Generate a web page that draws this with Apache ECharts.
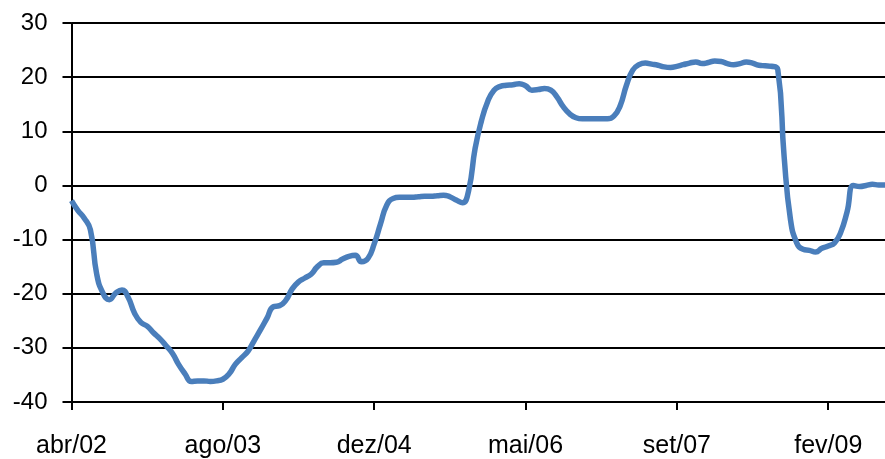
<!DOCTYPE html>
<html>
<head>
<meta charset="utf-8">
<script src="https://cdn.jsdelivr.net/npm/echarts@6/dist/echarts.min.js"></script>
<style>html,body{margin:0;padding:0;background:#fff;}#c{width:885px;height:459px;}</style>
</head>
<body>
<div id="c"></div>
<script>
// Tick labels (one every 24 samples)
var tickLabels = ['abr/02', 'ago/03', 'dez/04', 'mai/06', 'set/07', 'fev/09'];
var samplesPerLabel = 24;
// Series values
var values = [
  -2.8, -4.6, -6.0, -8.2, -16.4, -19.9, -21.1, -19.9, -19.3, -20.7,
  -23.6, -25.3, -26.0, -27.2, -28.3, -29.6, -31.0, -33.1, -34.8, -36.2,
  -36.1, -36.1, -36.2, -36.1, -35.8, -34.8, -33.0, -31.8, -30.6, -28.6,
  -26.6, -24.5, -22.4, -22.2, -21.2, -19.1, -17.8, -17.1, -16.4, -15.0,
  -14.3, -14.3, -14.2, -13.6, -13.1, -12.9, -14.1, -13.5, -10.8, -7.1,
  -3.6, -2.4, -2.2, -2.2, -2.2, -2.1, -2.0, -2.0, -1.9, -1.8,
  -2.1, -2.7, -3.2, -0.8, 6.8, 11.9, 15.5, 17.6, 18.3, 18.5,
  18.6, 18.8, 18.4, 17.6, 17.7, 17.9, 17.6, 16.3, 14.5, 13.2,
  12.5, 12.3, 12.3, 12.3, 12.3, 12.3, 12.8, 14.7, 18.5, 21.3,
  22.3, 22.6, 22.4, 22.2, 21.9, 21.8, 22.0, 22.3, 22.6, 22.8,
  22.5, 22.7, 23.0, 22.9, 22.5, 22.3, 22.5, 22.8, 22.6, 22.2,
  22.1, 22.0, 21.4, 5.4, -6.2, -10.6, -11.8, -12.0, -12.3, -11.6,
  -11.2, -10.6, -8.6, -4.8, 0.0, -0.2, 0.0, 0.2, 0.1, 0.1
];
var categories = values.map(function (v, i) { return 'p' + i; });

var chart = echarts.init(document.getElementById('c'));
chart.setOption({
  animation: false,
  grid: { left: 71.5, right: -3.5, top: 23, bottom: 57, containLabel: false },
  xAxis: {
    type: 'category',
    data: categories,
    boundaryGap: false,
    axisLine: { show: true, onZero: false, lineStyle: { color: '#000', width: 2 } },
    axisTick: {
      show: true, length: 8, lineStyle: { color: '#000', width: 2 },
      interval: function (i) { return i % samplesPerLabel === 0; }
    },
    axisLabel: {
      interval: function (i) { return i % samplesPerLabel === 0; },
      formatter: function (v, i) { return tickLabels[i / samplesPerLabel] || ''; },
      color: '#000', fontSize: 25, fontFamily: 'Liberation Sans, Arial, sans-serif', margin: 32
    },
    splitLine: { show: false }
  },
  yAxis: {
    type: 'value',
    min: -40, max: 30, interval: 10,
    axisLine: { show: true, lineStyle: { color: '#000', width: 2 } },
    axisTick: { show: true, length: 9, lineStyle: { color: '#000', width: 2 } },
    axisLabel: { color: '#000', fontSize: 24, fontFamily: 'Liberation Sans, Arial, sans-serif', margin: 24 },
    splitLine: { show: true, lineStyle: { color: '#000', width: 2 } }
  },
  series: [{
    type: 'line',
    data: values,
    smooth: 0.5,
    symbol: 'none',
    lineStyle: { color: '#4a7ebb', width: 5.5 },
    clip: false
  }]
});
</script>
</body>
</html>
